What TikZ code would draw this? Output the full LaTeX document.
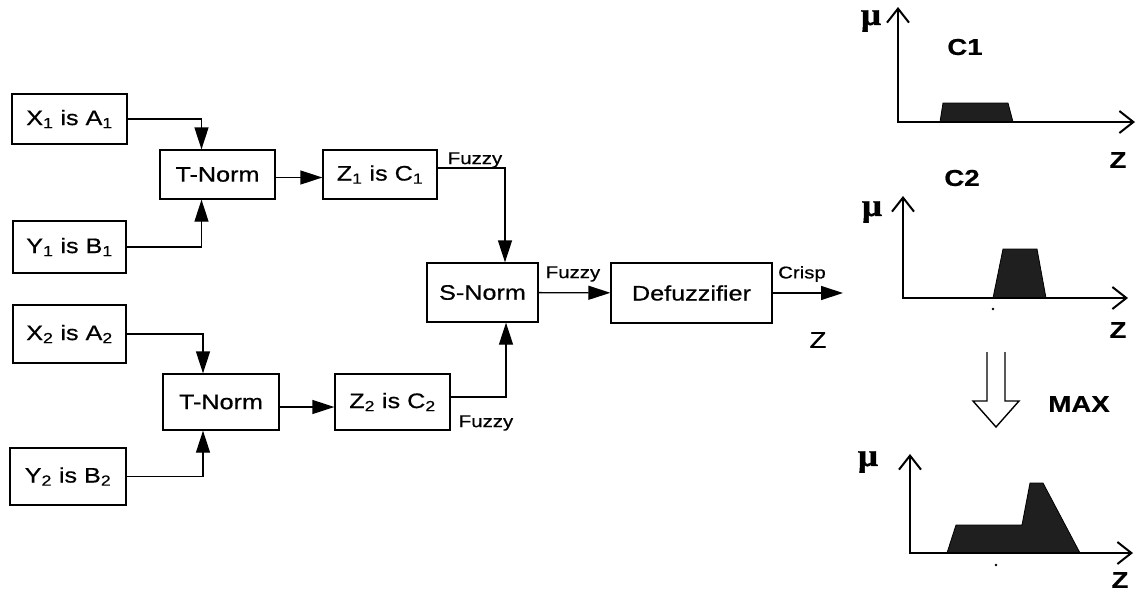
\documentclass[tikz,border=0pt]{standalone}
\usepackage{fontspec}
\setmainfont{Liberation Sans}[FakeStretch=1.2, FakeBold=0.6]
\newfontfamily\greekfont{Liberation Serif}[FakeStretch=1.1, FakeBold=1.5]
\usetikzlibrary{arrows.meta}
\newcommand{\blockfont}{\fontsize{21}{24}\selectfont}
\newcommand{\tagfont}{\fontsize{17}{20}\selectfont}
\newcommand{\plotfont}{\fontsize{23}{26}\selectfont\bfseries}
\tikzset{
    % Rule boxes of the inference chain
    block/.style={
        draw,
        rectangle,
        line width=1.3pt,
        minimum width=115pt,
        minimum height=50pt,
        inner sep=2pt,
        font=\blockfont,
    },
    % Connector between boxes - filled triangle tip
    arrow/.style={
        -{Triangle[length=22pt, width=14pt]},
        line width=1.3pt,
    },
    % Small Fuzzy / Crisp tags
    tag/.style={
        inner sep=0pt,
        font=\tagfont,
    },
    % Membership plot axes - open tip
    axis/.style={
        -{Straight Barb[length=14pt, width=22pt]},
        line width=2pt,
    },
    % Filled membership area
    area/.style={
        fill=black!88,
        draw=black,
        line width=0.8pt,
    },
    % Plot labels
    plot label/.style={
        inner sep=0pt,
        font=\plotfont,
    },
    mu/.style={
        inner sep=0pt,
        font=\greekfont\fontsize{32}{34}\selectfont\bfseries,
    },
}

\begin{document}
\begin{tikzpicture}[x=1pt, y=-1pt]
    \useasboundingbox (0,0) rectangle (1136,598);

    % first rule
    \node (xa1) [block] at (69.5,119) {X\textsubscript{1} is A\textsubscript{1}};
    \node (yb1) [block, minimum width=113pt, minimum height=52pt] at (69.5,247) {Y\textsubscript{1} is B\textsubscript{1}};
    \node (tn1) [block, minimum height=49pt] at (217.5,174.5) {T-Norm};
    \node (zc1) [block, minimum width=114pt, minimum height=49pt] at (380,174.5) {Z\textsubscript{1} is C\textsubscript{1}};

    % second rule
    \node (xa2) [block, minimum width=113pt, minimum height=58pt] at (69.5,334) {X\textsubscript{2} is A\textsubscript{2}};
    \node (yb2) [block, minimum width=116pt, minimum height=57pt] at (68,476.5) {Y\textsubscript{2} is B\textsubscript{2}};
    \node (tn2) [block, minimum width=116pt, minimum height=56pt] at (221,402) {T-Norm};
    \node (zc2) [block, minimum height=56pt] at (392.5,402) {Z\textsubscript{2} is C\textsubscript{2}};

    % aggregation and output
    \node (sn) [block, minimum width=111pt, minimum height=59pt] at (482.5,292.5) {S-Norm};
    \node (dz) [block, minimum width=161pt, minimum height=60pt] at (691.5,293) {Defuzzifier};
    \coordinate (zout) at (843,293);
    \node (zname) [inner sep=0pt, font=\fontsize{23}{25}\selectfont] at (818,340) {Z};

    \draw [arrow] (xa1) -| ([xshift=-16pt]tn1.north);
    \draw [arrow] (yb1) -| ([xshift=-16pt]tn1.south);
    \draw [arrow] ([yshift=-3pt]tn1.east) -- ([yshift=-3pt]zc1.west);
    \draw [arrow] (xa2) -| ([xshift=-18pt]tn2.north);
    \draw [arrow] (yb2) -| ([xshift=-18pt]tn2.south);
    \draw [arrow] ([yshift=-5pt]tn2.east) -- ([yshift=-5pt]zc2.west);
    \draw [arrow] ([yshift=6.5pt]zc1.east) -| ([xshift=22.5pt]sn.north);
    \draw [arrow] ([yshift=5pt]zc2.east) -| ([xshift=23.5pt]sn.south);
    \draw [arrow] (sn) -- (dz);
    \draw [arrow] (dz) -- (zout);

    \node (fz1) [tag] at (475,160) {Fuzzy};
    \node (fz2) [tag] at (486,423) {Fuzzy};
    \node (fz3) [tag] at (573,274) {Fuzzy};
    \node (crisp) [tag] at (802,274) {Crisp};

    % membership plot C1
    \fill [area] (940,122) -- (943,103) -- (1008,103) -- (1013,122) -- cycle;
    \draw [axis] (898,123) -- (898,7);
    \draw [axis] (897,122) -- (1135,122);
    \node [mu] at (871,21) {μ};
    \node [plot label] at (965,47) {C1};
    \node [plot label] at (1118,160) {Z};

    % membership plot C2
    \fill [area] (993,298) -- (1003,249) -- (1037,249) -- (1046,298) -- cycle;
    \draw [axis] (903,299) -- (903,196);
    \draw [axis] (902,298) -- (1128,298);
    \fill (993,309) circle (1.3pt);
    \node [mu] at (872,212) {μ};
    \node [plot label] at (962,178) {C2};
    \node [plot label] at (1118,330) {Z};

    % max combination
    \draw [line width=1.4pt] (987,352) -- (987,401) -- (973,401) -- (996,427) -- (1019,401) -- (1005,401) -- (1005,352);
    \node [plot label] at (1079,404) {MAX};

    % resulting membership
    \fill [area] (947,553) -- (956,525) -- (1022,525) -- (1030,483) -- (1043,483) -- (1080,553) -- cycle;
    \draw [axis] (910,554) -- (910,454);
    \draw [axis] (909,553) -- (1133,553);
    \fill (996,565) circle (1.3pt);
    \node [mu] at (868,462) {μ};
    \node [plot label] at (1120,580) {Z};
\end{tikzpicture}
\end{document}
